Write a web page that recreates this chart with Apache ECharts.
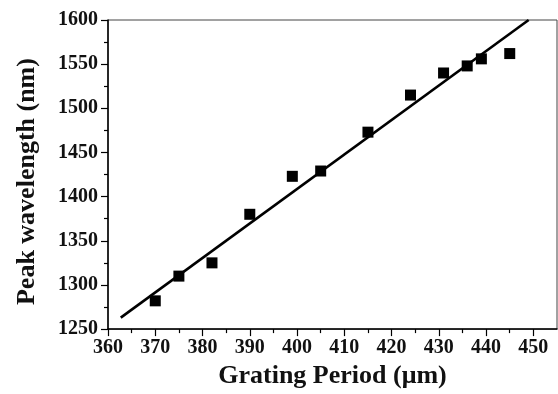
<!DOCTYPE html>
<html>
<head>
<meta charset="utf-8">
<script src="https://cdn.jsdelivr.net/npm/echarts@6/dist/echarts.min.js"></script>
<style>html,body{margin:0;padding:0;background:#fff;}#c{width:558px;height:394px;}</style>
</head>
<body>
<div id="c"></div>
<script>
const periods = [370, 375, 382, 390, 399, 405, 415, 424, 431, 436, 439, 445];
const wavelengths = [1282, 1310, 1325, 1380, 1423, 1429, 1473, 1515, 1540, 1548, 1556, 1562];
const fitLine = [[362.7, 1263], [449, 1600]];
const xMajorTicks = [360, 370, 380, 390, 400, 410, 420, 430, 440, 450];
const xMinorTicks = [365, 375, 385, 395, 405, 415, 425, 435, 445];
const yTicks = [1250, 1300, 1350, 1400, 1450, 1500, 1550, 1600];

const font = 'Liberation Serif';
const txt = '#111';
const chart = echarts.init(document.getElementById('c'));
const baseX = {
  type: 'value', min: 360, max: 455, interval: 10,
  splitLine: {show: false}
};
chart.setOption({
  animation: false,
  grid: {left: 108, top: 20, right: 1, bottom: 59, show: true, borderColor: '#444', borderWidth: 1},
  xAxis: [
    Object.assign({}, baseX, {
      position: 'bottom',
      name: 'Grating Period (\u03bcm)', nameLocation: 'middle', nameGap: 30,
      nameTextStyle: {fontFamily: font, fontWeight: 'bold', fontSize: 26, color: txt},
      axisLine: {show: true, lineStyle: {color: '#000', width: 1.5}},
      axisTick: {show: true, length: 7, inside: false, lineStyle: {color: '#000', width: 1.2}, customValues: xMajorTicks},
      axisLabel: {show: true, margin: 9, fontFamily: font, fontWeight: 'bold', fontSize: 20, color: txt,
        customValues: xMajorTicks, formatter: v => String(v)}
    }),
    Object.assign({}, baseX, {
      position: 'bottom',
      axisLine: {show: false},
      axisTick: {show: true, length: 4, lineStyle: {color: '#000', width: 1.2}, customValues: xMinorTicks},
      axisLabel: {show: false}
    })
  ],
  yAxis: {
    type: 'value', min: 1250, max: 1600, interval: 50,
    name: 'Peak wavelength (nm)', nameLocation: 'middle', nameGap: 68,
    nameTextStyle: {fontFamily: font, fontWeight: 'bold', fontSize: 26, color: txt, padding: [0, 14, 0, 0]},
    axisLine: {show: true, lineStyle: {color: '#000', width: 1.5}},
    axisTick: {show: true, length: 7, lineStyle: {color: '#000', width: 1.2}, customValues: yTicks},
    minorTick: {show: true, splitNumber: 2, length: 4, lineStyle: {color: '#000', width: 1.2}},
    axisLabel: {margin: 10, fontFamily: font, fontWeight: 'bold', fontSize: 20, color: txt,
      customValues: yTicks, formatter: v => String(v)},
    splitLine: {show: false}
  },
  series: [
    {
      type: 'line', data: fitLine, showSymbol: false, symbol: 'none',
      lineStyle: {color: '#000', width: 2.6}, clip: true, z: 2
    },
    {
      type: 'scatter', data: periods.map((p, i) => [p, wavelengths[i]]),
      symbol: 'rect', symbolSize: 11, itemStyle: {color: '#000', opacity: 1}, z: 3
    }
  ]
});
</script>
</body>
</html>
